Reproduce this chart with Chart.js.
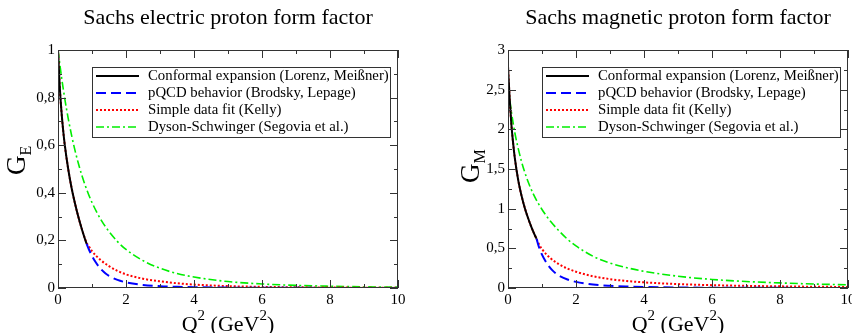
<!DOCTYPE html>
<html>
<head>
<meta charset="utf-8">
<script src="https://cdn.jsdelivr.net/npm/chart.js@4"></script>
<style>
  body { margin: 0; background: #fff; }
  #wrap { display: flex; width: 852px; height: 333px; }
  canvas { display: block; }
</style>
</head>
<body>
<div id="wrap">
  <canvas id="ge" width="426" height="333"></canvas>
  <canvas id="gm" width="426" height="333"></canvas>
</div>
<script>
const FONT = "'Liberation Serif', 'Times New Roman', serif";

const legendLabels = [
  'Conformal expansion (Lorenz, Meißner)',
  'pQCD behavior (Brodsky, Lepage)',
  'Simple data fit (Kelly)',
  'Dyson-Schwinger (Segovia et al.)'
];

const xTicks = [0, 2, 4, 6, 8, 10];
const xMinor = [1, 3, 5, 7, 9];
const geTicks = [0, 0.2, 0.4, 0.6, 0.8, 1];
const geMinor = [0.1, 0.3, 0.5, 0.7, 0.9];
const gmTicks = [0, 0.5, 1, 1.5, 2, 2.5, 3];
const gmMinor = [0.25, 0.75, 1.25, 1.75, 2.25, 2.75];

// electric form factor G_E
const qConfE = [0, 0.05, 0.1, 0.15, 0.2, 0.3, 0.4, 0.5, 0.6, 0.7, 0.8, 0.84];
const geConf = [1, 0.85, 0.745, 0.665, 0.6, 0.5, 0.42, 0.355, 0.298, 0.248, 0.203, 0.186];
const qPqcdE = [0.84, 0.9, 1, 1.1, 1.2, 1.3, 1.4, 1.5, 1.75, 2, 2.5, 3, 3.5, 4, 5, 6, 8, 10];
const gePqcd = [0.186, 0.165, 0.135, 0.11, 0.09, 0.074, 0.061, 0.051, 0.034, 0.024, 0.013, 0.0078, 0.005, 0.0034, 0.0017, 0.001, 0.0004, 0.0002];
const qFitE = [0, 0.05, 0.1, 0.15, 0.2, 0.3, 0.4, 0.5, 0.6, 0.7, 0.8, 0.84, 0.9, 1, 1.25, 1.5, 1.75, 2, 2.5, 3, 3.5, 4, 5, 6, 7, 8, 9, 10];
const geFit = [1, 0.85, 0.745, 0.665, 0.6, 0.5, 0.42, 0.355, 0.298, 0.248, 0.205, 0.19, 0.177, 0.155, 0.118, 0.092, 0.072, 0.057, 0.039, 0.028, 0.02, 0.0145, 0.008, 0.0048, 0.003, 0.002, 0.0013, 0.0009];
const qDseE = [0, 0.1, 0.2, 0.3, 0.4, 0.5, 0.6, 0.7, 0.8, 0.9, 1, 1.25, 1.5, 1.75, 2, 2.5, 3, 3.5, 4, 5, 6, 7, 8, 9, 10];
const geDse = [1, 0.89, 0.795, 0.713, 0.641, 0.578, 0.523, 0.474, 0.431, 0.393, 0.359, 0.29, 0.237, 0.195, 0.162, 0.115, 0.083, 0.061, 0.046, 0.027, 0.017, 0.011, 0.0075, 0.005, 0.0035];

// magnetic form factor G_M
const qConfM = [0, 0.05, 0.1, 0.15, 0.2, 0.3, 0.4, 0.5, 0.6, 0.7, 0.8, 0.84];
const gmConf = [2.79, 2.38, 2.06, 1.83, 1.64, 1.36, 1.16, 1.0, 0.87, 0.755, 0.655, 0.62];
const qPqcdM = [0.84, 0.9, 1, 1.1, 1.2, 1.3, 1.4, 1.5, 1.75, 2, 2.5, 3, 3.5, 4, 5, 6, 8, 10];
const gmPqcd = [0.62, 0.53, 0.42, 0.34, 0.275, 0.225, 0.187, 0.157, 0.107, 0.077, 0.044, 0.028, 0.019, 0.013, 0.0068, 0.004, 0.0017, 0.0008];
const qFitM = [0, 0.05, 0.1, 0.15, 0.2, 0.3, 0.4, 0.5, 0.6, 0.7, 0.8, 0.84, 0.9, 1, 1.25, 1.5, 1.75, 2, 2.5, 3, 3.5, 4, 5, 6, 7, 8, 9, 10];
const gmFit = [2.79, 2.38, 2.06, 1.83, 1.64, 1.36, 1.16, 1.0, 0.87, 0.755, 0.655, 0.62, 0.56, 0.49, 0.375, 0.3, 0.245, 0.205, 0.148, 0.112, 0.088, 0.071, 0.049, 0.036, 0.027, 0.021, 0.016, 0.013];
const qDseM = [0, 0.05, 0.1, 0.2, 0.3, 0.4, 0.5, 0.6, 0.75, 1, 1.25, 1.5, 1.75, 2, 2.5, 3, 3.5, 4, 5, 6, 7, 8, 9, 10];
const gmDse = [2.56, 2.38, 2.22, 1.96, 1.76, 1.59, 1.45, 1.33, 1.18, 0.99, 0.84, 0.72, 0.615, 0.53, 0.4, 0.315, 0.255, 0.21, 0.148, 0.108, 0.082, 0.064, 0.05, 0.04];

function pts(xs, ys) {
  return xs.map((q, i) => ({ x: q, y: ys[i] }));
}

function comma(v) {
  return String(Number(v.toFixed(2))).replace('.', ',');
}

// draws the xmgrace-like frame, inward ticks, legend box and axis titles
const gracePlugin = {
  id: 'grace',
  afterDraw(chart, args, opts) {
    const { ctx, chartArea: a, scales: { x, y } } = chart;
    ctx.save();
    ctx.strokeStyle = '#333';
    ctx.lineWidth = 1;
    ctx.strokeRect(a.left + 0.5, a.top + 0.5, a.right - a.left - 1, a.bottom - a.top - 1);

    ctx.beginPath();
    const xt = (vals, len) => vals.forEach(v => {
      const px = Math.round(x.getPixelForValue(v)) + 0.5;
      ctx.moveTo(px, a.bottom); ctx.lineTo(px, a.bottom - len);
      ctx.moveTo(px, a.top); ctx.lineTo(px, a.top + len);
    });
    const yt = (vals, len) => vals.forEach(v => {
      const py = Math.round(y.getPixelForValue(v)) + 0.5;
      ctx.moveTo(a.left, py); ctx.lineTo(a.left + len, py);
      ctx.moveTo(a.right, py); ctx.lineTo(a.right - len, py);
    });
    xt(xTicks, 8); xt(xMinor, 4);
    yt(opts.yTicks, 8); yt(opts.yMinor, 4);
    ctx.stroke();

    // legend
    const bx = a.left + 34, by = a.top + 17, bw = 298, bh = 70;
    ctx.fillStyle = '#fff';
    ctx.fillRect(bx, by, bw, bh);
    ctx.strokeStyle = '#333';
    ctx.strokeRect(bx + 0.5, by + 0.5, bw, bh);
    ctx.font = '14.8px ' + FONT;
    ctx.textBaseline = 'middle';
    chart.data.datasets.forEach((ds, i) => {
      const ry = by + 9 + i * 17;
      ctx.save();
      ctx.strokeStyle = ds.borderColor;
      ctx.lineWidth = ds.borderWidth;
      ctx.setLineDash(ds.borderDash || []);
      ctx.beginPath();
      ctx.moveTo(bx + 4, ry);
      ctx.lineTo(bx + 47, ry);
      ctx.stroke();
      ctx.restore();
      ctx.fillStyle = '#000';
      ctx.fillText(ds.label, bx + 56, ry);
    });

    // y axis title G with subscript
    ctx.fillStyle = '#000';
    ctx.textBaseline = 'alphabetic';
    ctx.save();
    ctx.translate(a.left + opts.gx, opts.gy);
    ctx.rotate(-Math.PI / 2);
    ctx.font = '27px ' + FONT;
    ctx.fillText('G', 0, 0);
    const gw = ctx.measureText('G').width;
    ctx.font = '16px ' + FONT;
    ctx.fillText(opts.sub, gw, 6);
    ctx.restore();

    // x axis title Q^2 (GeV^2)
    const parts = [['Q', 22, 0], ['2', 15, -11], [' (GeV', 22, 0], ['2', 15, -11], [')', 22, 0]];
    let total = 0;
    parts.forEach(p => { ctx.font = p[1] + 'px ' + FONT; total += ctx.measureText(p[0]).width; });
    let cx = (a.left + a.right) / 2 - total / 2;
    parts.forEach(p => {
      ctx.font = p[1] + 'px ' + FONT;
      ctx.fillText(p[0], cx, 331 + p[2]);
      cx += ctx.measureText(p[0]).width;
    });
    ctx.restore();
  }
};

function makeChart(id, title, data, yMax, yTicks, yMinor, leftW, rightPad, sub, gx, gy) {
  const ctx = document.getElementById(id).getContext('2d');
  new Chart(ctx, {
    type: 'line',
    data: {
      datasets: [
        { label: legendLabels[0], data: data[0], borderColor: '#000000', borderWidth: 2, borderDash: [] },
        { label: legendLabels[1], data: data[1], borderColor: '#0000ff', borderWidth: 2, borderDash: [10, 5] },
        { label: legendLabels[2], data: data[2], borderColor: '#ff0000', borderWidth: 2, borderDash: [2, 2] },
        { label: legendLabels[3], data: data[3], borderColor: '#00ee00', borderWidth: 1.6, borderDash: [8, 3, 2, 3] }
      ].map(d => Object.assign(d, { pointRadius: 0, fill: false, cubicInterpolationMode: 'monotone' }))
    },
    options: {
      responsive: false,
      animation: false,
      layout: { padding: { left: 0, right: rightPad, top: 0, bottom: 0 } },
      plugins: {
        legend: { display: false },
        tooltip: { enabled: false },
        title: {
          display: true,
          text: title,
          fullSize: false,
          color: '#000',
          font: { family: FONT, size: 22, weight: 'normal', lineHeight: 1.2 },
          padding: { top: 5, bottom: 18.6 }
        },
        grace: { yTicks: yTicks, yMinor: yMinor, sub: sub, gx: gx, gy: gy }
      },
      scales: {
        x: {
          type: 'linear',
          min: 0,
          max: 10,
          afterBuildTicks: s => { s.ticks = xTicks.map(v => ({ value: v })); },
          afterFit: s => { s.height = 45; s.paddingLeft = 0; s.paddingRight = 0; },
          grid: { display: false, drawTicks: false },
          border: { display: false },
          ticks: { color: '#000', padding: 3, maxRotation: 0, font: { family: FONT, size: 15 }, callback: v => comma(v) }
        },
        y: {
          type: 'linear',
          min: 0,
          max: yMax,
          afterBuildTicks: s => { s.ticks = yTicks.map(v => ({ value: v })); },
          afterFit: s => { s.width = leftW; s.paddingTop = 0; s.paddingBottom = 0; },
          grid: { display: false, drawTicks: false },
          border: { display: false },
          ticks: { color: '#000', padding: 3, font: { family: FONT, size: 15 }, callback: v => comma(v) }
        }
      }
    },
    plugins: [gracePlugin]
  });
}

makeChart('ge', 'Sachs electric proton form factor',
  [pts(qConfE, geConf), pts(qPqcdE, gePqcd), pts(qFitE, geFit), pts(qDseE, geDse)],
  1, geTicks, geMinor, 58, 28, 'E', -33, 175);

makeChart('gm', 'Sachs magnetic proton form factor',
  [pts(qConfM, gmConf), pts(qPqcdM, gmPqcd), pts(qFitM, gmFit), pts(qDseM, gmDse)],
  3, gmTicks, gmMinor, 82, 4, 'M', -29, 183);
</script>
</body>
</html>
